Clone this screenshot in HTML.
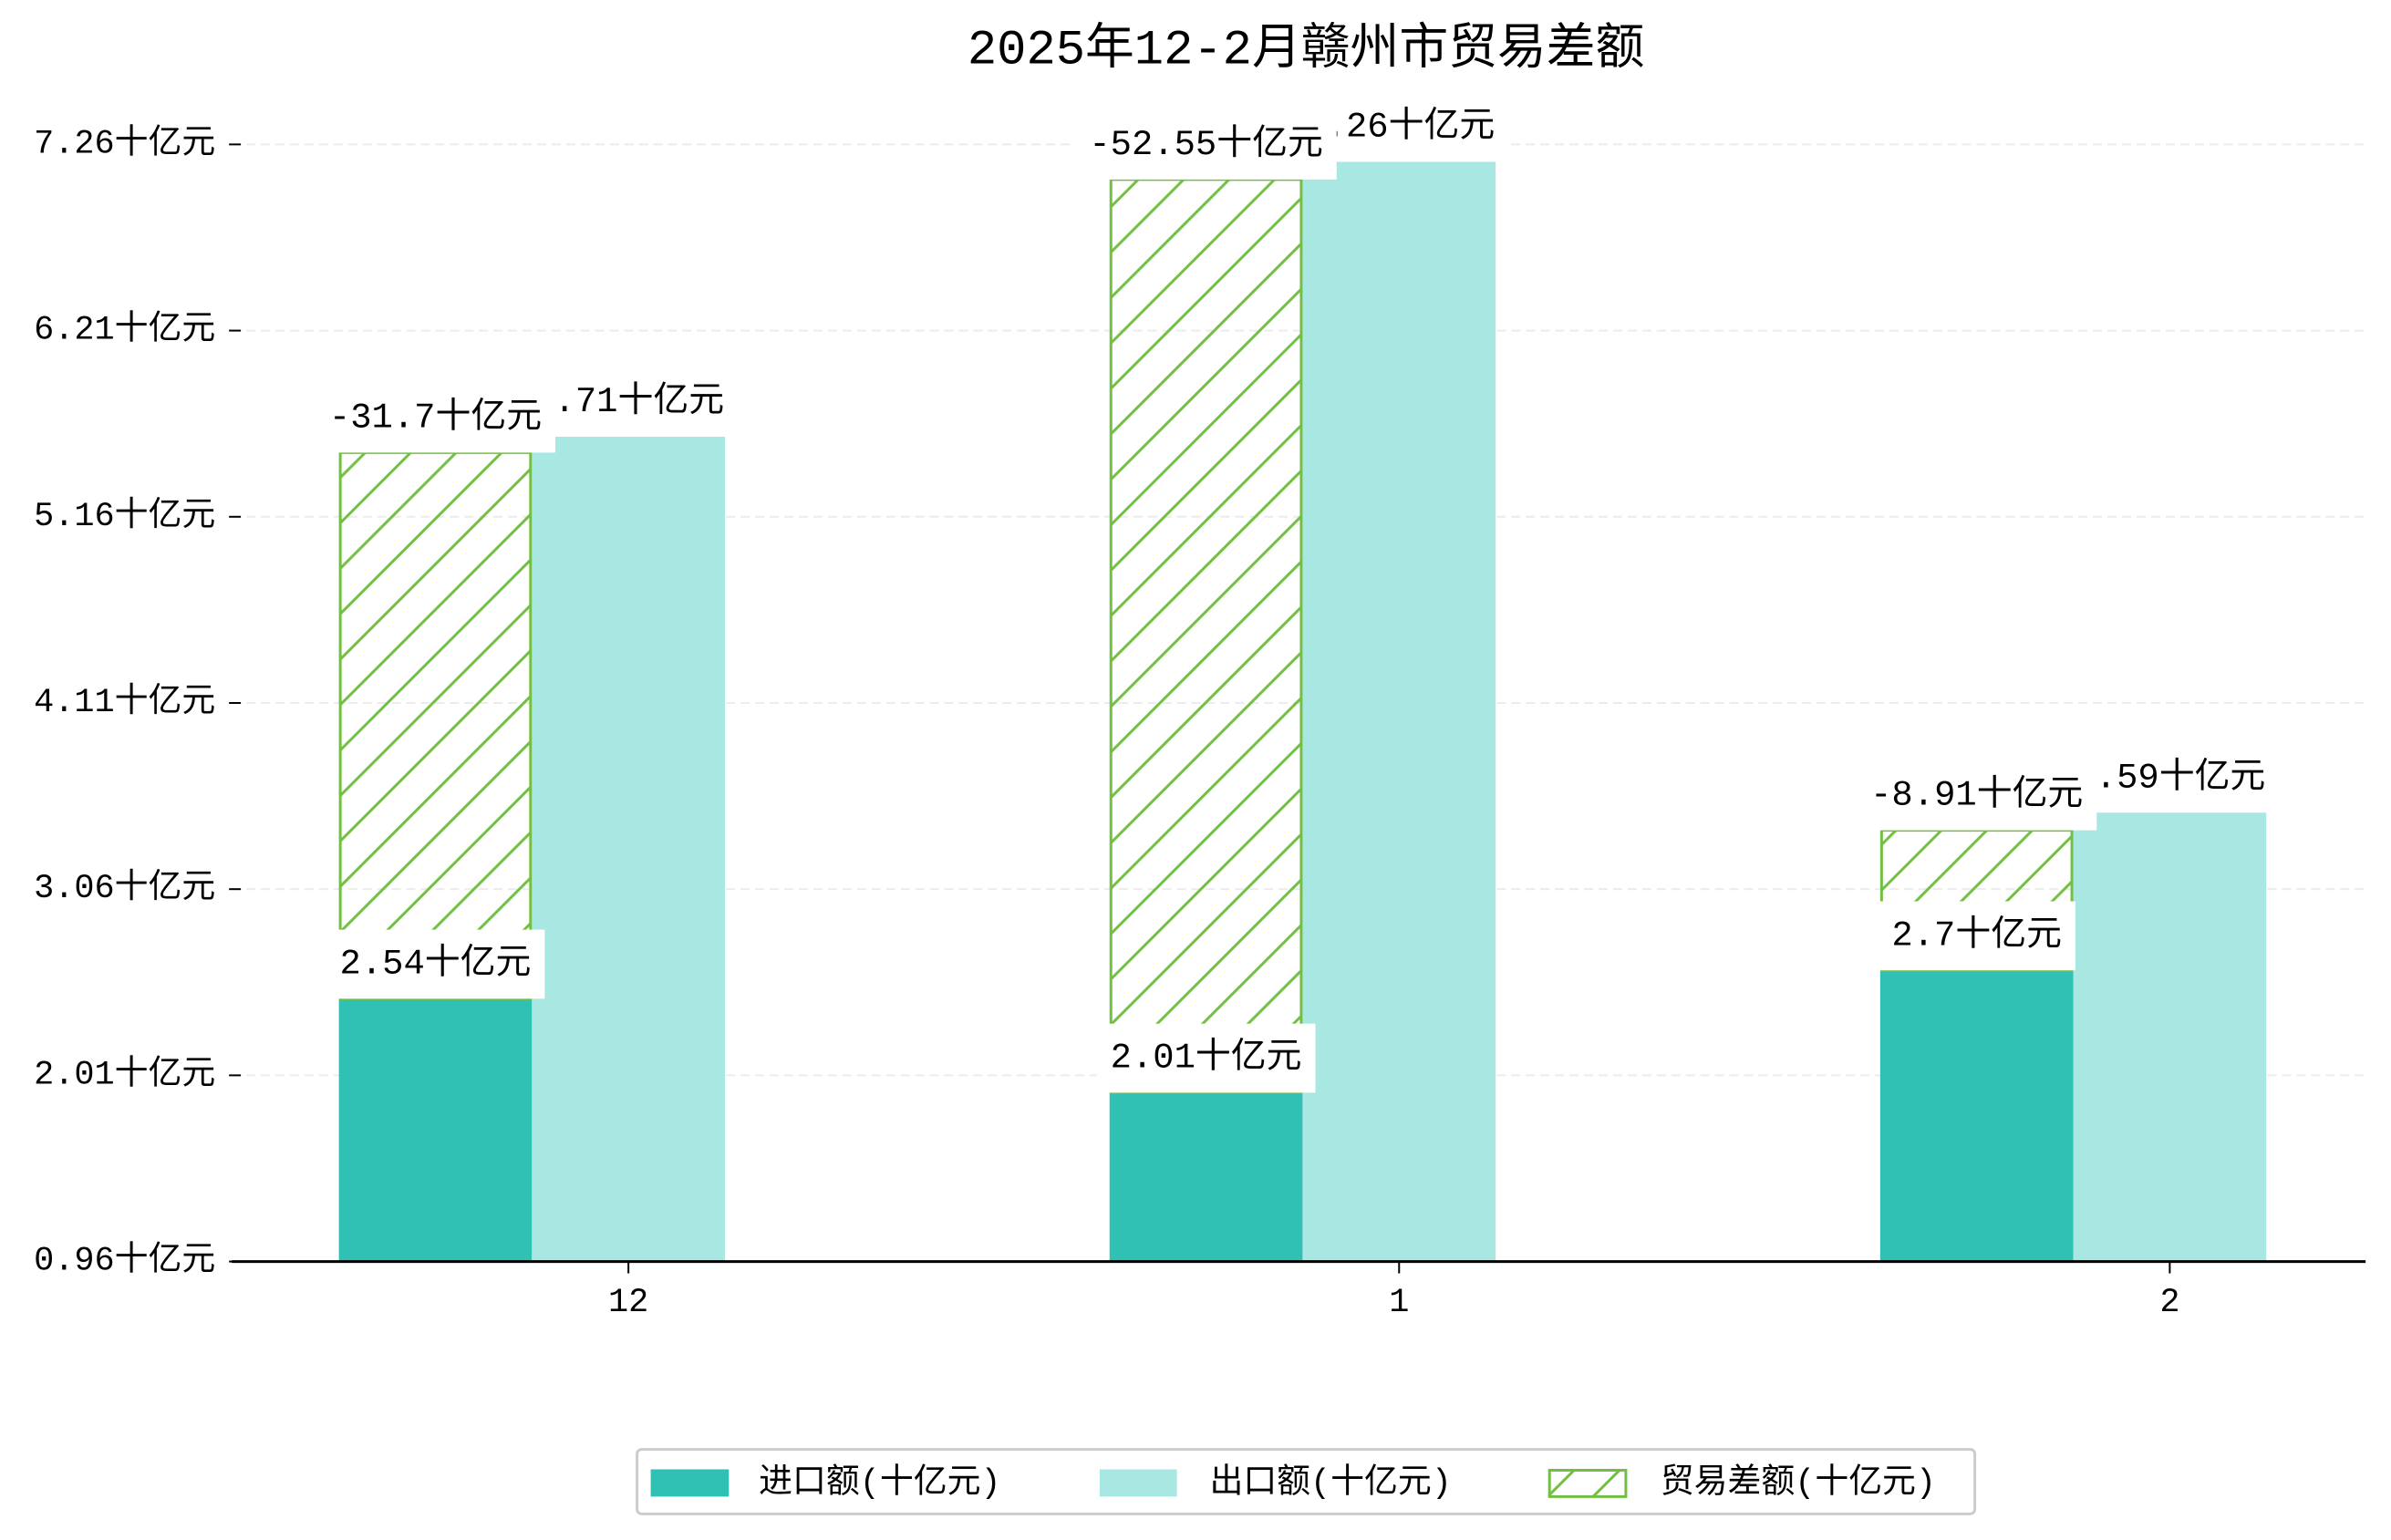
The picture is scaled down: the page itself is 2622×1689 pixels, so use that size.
<!DOCTYPE html>
<html><head><meta charset="utf-8"><style>
html,body{margin:0;padding:0;background:#fff;}
svg{display:block;}
text{font-family:"Liberation Mono","Noto Sans CJK SC",monospace;fill:#000;}
</style></head><body>
<svg id="chart" width="2622" height="1689" viewBox="0 0 2622 1689" xmlns="http://www.w3.org/2000/svg">
<defs>
<pattern id="hatch" patternUnits="userSpaceOnUse" width="50" height="50">
<path d="M-12.5,12.5 L12.5,-12.5 M0,50 L50,0 M37.5,62.5 L62.5,37.5" stroke="#72bf44" stroke-width="3"/>
</pattern>
</defs>
<g transform="scale(0.9966)">
<text x="1437" y="56" font-size="54" text-anchor="middle" dominant-baseline="central">2025年12-2月赣州市贸易差额</text>
<g id="grid"></g>
<g id="bars"></g>
<g id="labels"></g>
<g id="axes"></g>
<g>
<rect x="701" y="1595" width="1472" height="71" rx="5" fill="#fff" stroke="#cccccc" stroke-width="3"/>
<rect x="716" y="1617" width="86" height="30" fill="#31c1b4"/>
<text x="835" y="1633" font-size="37" dominant-baseline="central">进口额(十亿元)</text>
<rect x="1210" y="1617" width="85" height="30" fill="#a9e8e2"/>
<text x="1331" y="1633" font-size="37" dominant-baseline="central">出口额(十亿元)</text>
<rect x="1705" y="1618" width="84" height="29" fill="url(#hatch)" stroke="#72bf44" stroke-width="3"/>
<text x="1827" y="1633" font-size="37" dominant-baseline="central">贸易差额(十亿元)</text>
</g>
</g>
</svg>
<script>
const categories = ["12", "1", "2"];
const importValues = [2.54, 2.01, 2.7];
const exportValues = [5.71, 7.26, 3.59];
const balanceValues = [-31.7, -52.55, -8.91];
const balanceBarHeights = [3.08, 5.15, 0.79];
const yTickLabels = ["0.96", "2.01", "3.06", "4.11", "5.16", "6.21", "7.26"];
const yTickStart = 1.058;
const yTickStep = 1.05;

const NS = "http://www.w3.org/2000/svg";
const axisY = 1388.3;
const pxPerUnit = 195.14;
function yScale(v){ return axisY - (v - yTickStart) * pxPerUnit; }
const plotLeft = 255, plotRight = 2603;
const groupStart = 691.5, groupGap = 848;
function xCenter(i){ return groupStart + i * groupGap; }
const barW = 212.4;

function mk(tag, attrs, parent){
  const e = document.createElementNS(NS, tag);
  for (const k in attrs) e.setAttribute(k, attrs[k]);
  parent.appendChild(e);
  return e;
}
const grid = document.getElementById('grid');
const bars = document.getElementById('bars');
const labels = document.getElementById('labels');
const axes = document.getElementById('axes');

yTickLabels.forEach((lab, i) => {
  const y = yScale(yTickStart + i * yTickStep);
  if (i > 0) {
    const g = mk('line', {x1: plotLeft, x2: plotRight, y1: y, y2: y, stroke: '#ececec', 'stroke-width': 2, 'stroke-dasharray': '10,6'}, grid);
    
    
  }
  const t = mk('line', {x1: 252, x2: 265, y1: y, y2: y, stroke: '#000', 'stroke-width': 2}, axes);
  
  
  const tx = mk('text', {x: 237, y: y, 'font-size': 37, 'text-anchor': 'end', 'dominant-baseline': 'central'}, axes);
  tx.textContent = lab + '十亿元';
  
  
});

const ax = mk('line', {x1: plotLeft, x2: plotRight, y1: axisY, y2: axisY, stroke: '#000', 'stroke-width': 3}, axes);



function labelBox(cx, bottom, str, name){
  const g = mk('g', {}, labels);
  
  
  const r = mk('rect', {fill: '#fff'}, g);
  const t = mk('text', {x: cx, y: bottom - 38, 'font-size': 39, 'text-anchor': 'middle', 'dominant-baseline': 'central'}, g);
  t.textContent = str;
  let w = 220;
  try { w = t.getComputedTextLength(); } catch(e) {}
  r.setAttribute('x', cx - w/2 - 15);
  r.setAttribute('y', bottom - 76);
  r.setAttribute('width', w + 30);
  r.setAttribute('height', 76);
}

categories.forEach((c, i) => {
  const cx = xCenter(i);
  const impTop = yScale(importValues[i]);
  const ib = mk('rect', {x: cx - 1.5*barW, y: impTop, width: barW, height: axisY - impTop, fill: '#31c1b4'}, bars);
  
  
  const expTop = yScale(exportValues[i]);
  const eb = mk('rect', {x: cx - 0.5*barW, y: expTop, width: barW, height: axisY - expTop, fill: '#a9e8e2'}, bars);
  
  
  const hTop = yScale(importValues[i] + balanceBarHeights[i]);
  const hb = mk('rect', {x: cx - 1.5*barW + 1.5, y: hTop, width: barW - 3, height: impTop - hTop, fill: 'url(#hatch)', stroke: '#72bf44', 'stroke-width': 3}, bars);
  
  
  const xt = mk('line', {x1: cx, x2: cx, y1: axisY, y2: axisY + 13, stroke: '#000', 'stroke-width': 2}, axes);
  
  
  const xl = mk('text', {x: cx, y: 1434, 'font-size': 37, 'text-anchor': 'middle', 'dominant-baseline': 'central'}, axes);
  xl.textContent = c;
  
  
});
categories.forEach((c, i) => {
  const cx = xCenter(i);
  labelBox(cx, yScale(exportValues[i]), exportValues[i] + '十亿元', 'export-value-label-' + c);
  labelBox(cx - barW, yScale(importValues[i]), importValues[i] + '十亿元', 'import-value-label-' + c);
  labelBox(cx - barW, yScale(importValues[i] + balanceBarHeights[i]), balanceValues[i] + '十亿元', 'balance-value-label-' + c);
});
</script>
</body></html>
